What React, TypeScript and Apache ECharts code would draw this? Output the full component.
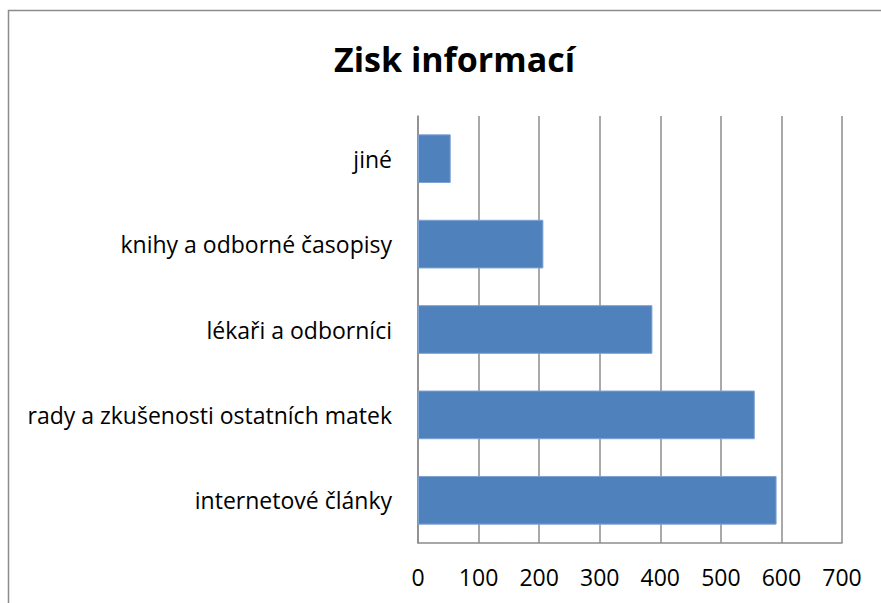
import React, { useEffect, useRef } from "react";
import * as echarts from "echarts";

const categories = [
  "internetové články",
  "rady a zkušenosti ostatních matek",
  "lékaři a odborníci",
  "knihy a odborné časopisy",
  "jiné",
];
const values = [592, 556, 387, 207, 54];
const titleText = "Zisk informací";

export default function App() {
  const ref = useRef<HTMLDivElement>(null);
  useEffect(() => {
    const chart = echarts.init(ref.current!, null, { renderer: "svg" });
    chart.setOption({
      animation: false,
      backgroundColor: "#ffffff",
      title: {
        text: titleText,
        left: 329,
        top: 37,
        textStyle: {
          fontFamily: "Open Sans",
          fontWeight: "bold",
          fontSize: 34,
          color: "#000",
        },
      },
      graphic: [
        {
          type: "rect",
          shape: { x: 8.5, y: 10.5, width: 900, height: 700 },
          style: { fill: "none", stroke: "#8c8c8c", lineWidth: 1.5 },
          silent: true,
        },
      ],
      grid: { left: 418, right: 39, top: 116, bottom: 60, containLabel: false },
      xAxis: {
        type: "value",
        min: 0,
        max: 700,
        interval: 100,
        axisLine: { show: true, lineStyle: { color: "#8c8c8c", width: 1.5 } },
        axisTick: { show: false },
        splitLine: { show: true, lineStyle: { color: "#8c8c8c", width: 1.5 } },
        axisLabel: {
          color: "#000",
          fontFamily: "Open Sans",
          fontSize: 23,
          margin: 22,
        },
      },
      yAxis: {
        type: "category",
        data: categories,
        axisLine: { show: true, lineStyle: { color: "#8c8c8c", width: 1.5 } },
        axisTick: { show: false },
        axisLabel: {
          color: "#000",
          fontFamily: "Open Sans",
          fontSize: 23,
          margin: 26,
        },
      },
      series: [
        {
          type: "bar",
          data: values,
          barWidth: "57%",
          itemStyle: {
            color: "#4f81bd",
            borderColor: "#7ea2d2",
            borderWidth: 1,
          },
        },
      ],
    });
    return () => chart.dispose();
  }, []);
  return (
    <div
      ref={ref}
      style={{ position: "fixed", left: 0, top: 0, width: 881, height: 603 }}
    />
  );
}
